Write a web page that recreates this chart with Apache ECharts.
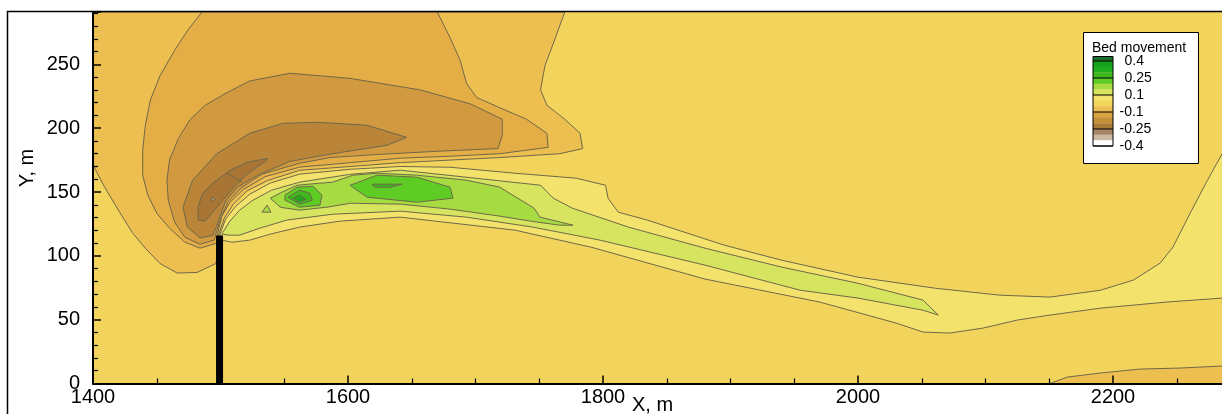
<!DOCTYPE html>
<html>
<head>
<meta charset="utf-8">
<script src="https://cdn.jsdelivr.net/npm/echarts@6/dist/echarts.min.js"></script>
<style>
  html, body { margin: 0; padding: 0; background: #ffffff; overflow: hidden; }
  #chart { width: 1222px; height: 414px; }
</style>
</head>
<body>
<div id="chart"></div>
<script>
// ---- Axis extents (metres) ----
const xRange = [1400, 2300];
const yRange = [0, 291];
const xTickStep = 200;
const yTickStep = 50;

// ---- Groyne ----
const pierX = [1496.5, 1502];
const pierTop = 116;

// ---- Bed movement contour regions, closed polygons of [X, Y] in metres ----
// erosion (negative) levels
const regionN1a = [[1400,291],[1770,291],[1762,269],[1754.5,249],[1751,230],[1756,218],[1770,207],[1782,196],[1784,184],
  [1766,180],[1719,177],[1680,175],[1641,173],[1602,170],[1562,167],[1537,159],[1521,151],[1510,140.5],
  [1503,129.5],[1499,118],[1498,108],[1496.5,94],[1481.6,87],[1466,86.5],[1452.5,94],[1441,106],[1431,118],
  [1421,134],[1409,154],[1400,171]];
const regionN1b = [[2150.6,0],[2164,5],[2190,8.2],[2221,11.3],[2252.6,12.1],[2285.6,13.7],[2300,14.5],[2300,0]];
const regionN2 = [[1485.5,291],[1670,291],[1680,271],[1688,253],[1693,235],[1701,224],[1719,216],[1740,207],[1756,196],[1757,185],
  [1719,180],[1680,178],[1641,176.5],[1602,173],[1562,169.5],[1535,162],[1518,152],[1507.5,142],[1501,131],[1498,118.5],
  [1497,110],[1484,106],[1472,110.7],[1460,121.7],[1450,133.4],[1443,147.5],[1439,163],[1439,183],[1441,202],
  [1445,222],[1452.5,241],[1464,261],[1474.5,277]];
const regionN3 = [[1554.5,243],[1601.6,239],[1656.5,230],[1696,219],[1721,207],[1721,194.4],[1717.6,184],
  [1672,182],[1625,179.5],[1586,177],[1562,172.5],[1532.5,164],[1516,153],[1506,142.5],[1501,131.5],[1497,119.3],
  [1495,112.3],[1484,109],[1472,114.6],[1464,126.4],[1459,143.6],[1458,159],[1460,175],[1467,192],[1476,206.6],
  [1488,218],[1503.5,227],[1523,237]];
const regionN4 = [[1646,192.8],[1615,202.3],[1576,204.6],[1549,203.8],[1523,196],[1497,180],[1478,159],[1470.6,138],[1474,122.5],
  [1484,114],[1494,116],[1497,123],[1500,132],[1504,143],[1513,153.5],[1529,163],[1554.5,174],[1588,180],[1630.6,186.6]];
const regionN5 = [[1537,176.4],[1521,173.3],[1507.5,167],[1494,157],[1486,149],[1482.4,138],[1482.4,128],[1488,127.2],
  [1493.3,133.4],[1501.2,142.8],[1509,152.2],[1519,162.4],[1529.4,170.2],[1535,174]];
const lineN5 = [[1505,164.7],[1517,157.7]];
const regionN6 = [[1492.5,144.4],[1494,146],[1495.5,144.4],[1494,142.8]];

// deposition (positive) levels
const regionP1 = [[1499.6,117],[1504,128.7],[1512,138.9],[1523,148.3],[1539,157],[1562,164],[1602,167.8],[1641,170],[1680,169.4],
  [1731,164.7],[1779,160.8],[1802,155.3],[1804,145],[1812,134.2],[1835,127.9],[1895,108.4],[1940,96.6],[2000,83.3],
  [2060,74.7],[2111,69.2],[2150.6,67.7],[2190,73],[2216,81],[2237,94.3],[2247,106.8],[2260.5,133.4],[2274,159],
  [2285.6,180],[2300,207.8],
  [2300,67.7],[2285.6,66.9],[2242,63.8],[2190,59],[2150.6,53.6],[2125,49.7],[2098,43.4],[2072,39.5],[2051,40.3],
  [2030,47.3],[1970,63.8],[1880,81.8],[1790.6,106.8],[1731,120.1],[1641,130.3],[1594,127.2],[1562,122.5],[1539,117],
  [1523,112.3],[1509,110.7],[1501,112.3]];
const regionP2 = [[1501,117],[1507.4,127.2],[1515,135.8],[1525.5,143.6],[1540,151.4],[1562,157.7],[1602,163.9],[1641,167.1],[1700,160.8],
  [1751,155.3],[1761,145.2],[1776,137.3],[1820,122.5],[1880,106],[1940,91.2],[2000,78.5],[2051,65.3],[2063,53.6],
  [2051,57.4],[2000,66.9],[1954.5,73.1],[1880,92.7],[1797.6,112.3],[1745,122.5],[1693,130.3],[1641,135],[1588,132.6],
  [1552,128],[1531,121.7],[1515,116.2],[1506,116.2]];
const regionP3 = [[1539,145.2],[1548,149.8],[1560,155.3],[1578,156.9],[1588,157.7],[1604,163.2],[1623,164.7],[1654,163.2],[1693,159.2],
  [1719,153.8],[1746,137.3],[1750.6,130.3],[1776.5,124],
  [1766,124],[1743,127.2],[1719,131.1],[1680,136.6],[1641,140.5],[1602,141.2],[1583.5,138.1],[1562,135.8],[1547,138]];
const regionP3b = [[1532.5,134.2],[1536.5,139.7],[1539.6,134.2]];
const regionP4a = [[1550.6,147.5],[1560,153.8],[1572.5,154.5],[1579.6,147.5],[1578,139.7],[1562,138.1],[1550.6,143.6]];
const regionP4b = [[1601.6,155.3],[1622.7,163.2],[1654,161.6],[1680,153.8],[1682.4,145.2],[1654,142],[1615,145.9]];
const regionP5a = [[1553,145.9],[1562,151.4],[1570,149.1],[1572,143.6],[1562,140.5]];
const regionP5b = [[1619,156.1],[1642.4,156.1],[1633,153.8],[1621,153.8]];
const regionP6 = [[1557,145.2],[1562,147.5],[1567,144.4],[1561.6,142]];

// ---- Colour legend ----
const legendTitle = 'Bed movement';
const legendLabels = ['0.4', '0.25', '0.1', '-0.1', '-0.25', '-0.4'];
const legendColors = ['#1d6f2d', '#13a11c', '#1dad1f', '#3db91e', '#5fcb25', '#a6db42', '#d7e460', '#f3e26c',
  '#f2d45c', '#ecbd4f', '#d9a243', '#c48e3b', '#a97a36', '#a58767', '#cdbba3', '#ffffff'];

// ---- Styling ----
const baseColor = '#f2d45c';
const bandColors = {
  n1: '#edbe50', n2: '#e5ad45', n3: '#d19a40', n4: '#ba8439', n5: '#a87534', n6: '#a89070',
  p1: '#f3e26c', p2: '#d7e460', p3: '#a6db42', p4: '#5fcb25', p5: '#3db91e', p6: '#22a81c'
};
const lineColor = '#6f684a';
const fontFamily = 'Liberation Sans, Arial, Helvetica, sans-serif';

const regions = [
  { band: 'base', pts: [[xRange[0], yRange[0]], [xRange[1], yRange[0]], [xRange[1], yRange[1]], [xRange[0], yRange[1]]] },
  { band: 'n1', pts: regionN1a }, { band: 'n1', pts: regionN1b },
  { band: 'n2', pts: regionN2 }, { band: 'n3', pts: regionN3 }, { band: 'n4', pts: regionN4 },
  { band: 'n5', pts: regionN5 }, { band: 'line', pts: lineN5 }, { band: 'n6', pts: regionN6 },
  { band: 'p1', pts: regionP1 }, { band: 'p2', pts: regionP2 }, { band: 'p3', pts: regionP3 }, { band: 'p3', pts: regionP3b },
  { band: 'p4', pts: regionP4a }, { band: 'p4', pts: regionP4b },
  { band: 'p5', pts: regionP5a }, { band: 'p5', pts: regionP5b }, { band: 'p6', pts: regionP6 }
];

function renderRegion(params, api) {
  const r = regions[api.value(2)];
  const pts = r.pts.map(p => api.coord(p));
  if (r.band === 'line') {
    return { type: 'polyline', shape: { points: pts }, style: { stroke: lineColor, lineWidth: 1, fill: null } };
  }
  if (r.band === 'base') {
    return { type: 'polygon', shape: { points: pts }, style: { fill: baseColor, stroke: null } };
  }
  return { type: 'polygon', shape: { points: pts }, style: { fill: bandColors[r.band], stroke: lineColor, lineWidth: 1 } };
}

function renderPier(params, api) {
  const a = api.coord([pierX[0], pierTop]);
  const b = api.coord([pierX[1], 0]);
  return { type: 'rect', shape: { x: a[0], y: a[1], width: b[0] - a[0], height: b[1] - a[1] }, style: { fill: '#000000' } };
}

// ---- Legend graphics ----
const legend = [];
const box = { x: 1083.5, y: 32.5, w: 115, h: 131 };
legend.push({ type: 'rect', shape: { x: box.x, y: box.y, width: box.w, height: box.h },
  style: { fill: '#ffffff', stroke: '#000000', lineWidth: 1 }, z: 100 });
legend.push({ type: 'text', x: 1092, y: 48, z: 101,
  style: { text: legendTitle, fontSize: 14, fontFamily: fontFamily, fill: '#000', align: 'left', verticalAlign: 'middle' } });
const barX = 1093, barW = 20, lvlTop = 61, segH = 17;
const bandH = segH / 3;
// band above the highest level
legend.push({ type: 'rect', shape: { x: barX, y: 56.5, width: barW, height: lvlTop - 56.5 }, style: { fill: legendColors[0] }, z: 101 });
for (let i = 1; i < legendColors.length; i++) {
  legend.push({ type: 'rect', shape: { x: barX, y: lvlTop + (i - 1) * bandH, width: barW, height: bandH + 0.3 },
    style: { fill: legendColors[i] }, z: 101 });
}
legend.push({ type: 'rect', shape: { x: barX, y: 56.5, width: barW, height: lvlTop + 5 * segH - 56.5 },
  style: { fill: null, stroke: '#000', lineWidth: 1 }, z: 102 });
legendLabels.forEach((lab, k) => {
  const y = lvlTop + k * segH;
  legend.push({ type: 'line', shape: { x1: barX, y1: y, x2: barX + barW, y2: y }, style: { stroke: '#000', lineWidth: 1 }, z: 102 });
  legend.push({ type: 'text', x: lab.charAt(0) === '-' ? 1119.5 : 1124.5, y: y + 0.5, z: 102,
    style: { text: lab, fontSize: 14, fontFamily: fontFamily, fill: '#000', align: 'left', verticalAlign: 'middle' } });
});

const chart = echarts.init(document.getElementById('chart'), null, { renderer: 'canvas' });

const axisLabelStyle = { fontSize: 20, color: '#000', fontFamily: fontFamily, formatter: v => String(v) };

chart.setOption({
  animation: false,
  backgroundColor: '#ffffff',
  grid: { left: 93, top: 12, width: 1147.5, height: 371.5, containLabel: false, outerBoundsMode: 'none' },
  xAxis: {
    type: 'value', min: xRange[0], max: xRange[1], interval: xTickStep, z: 10,
    axisLine: { show: true, onZero: false, lineStyle: { color: '#000', width: 2 } },
    axisTick: { show: true, inside: true, length: 8, lineStyle: { color: '#000', width: 1.5 } },
    minorTick: { show: true, splitNumber: 4, length: 5, lineStyle: { color: '#000', width: 1.2 } },
    splitLine: { show: false }, minorSplitLine: { show: false },
    axisLabel: Object.assign({ margin: 4, showMaxLabel: false, hideOverlap: false }, axisLabelStyle)
  },
  yAxis: {
    type: 'value', min: yRange[0], max: yRange[1], interval: yTickStep, z: 10,
    axisLine: { show: true, onZero: false, lineStyle: { color: '#000', width: 2 } },
    axisTick: { show: true, inside: true, length: 8, lineStyle: { color: '#000', width: 1.5 } },
    minorTick: { show: true, splitNumber: 5, length: 5, lineStyle: { color: '#000', width: 1.2 } },
    splitLine: { show: false }, minorSplitLine: { show: false },
    axisLabel: Object.assign({ margin: 13, showMaxLabel: false, hideOverlap: false }, axisLabelStyle)
  },
  series: [
    {
      type: 'custom', name: 'Bed movement', clip: true, z: 2,
      encode: { x: 0, y: 1 },
      data: regions.map((r, i) => [xRange[0], yRange[0], i]),
      renderItem: renderRegion, silent: true
    },
    {
      type: 'custom', name: 'Groyne', clip: true, z: 3,
      encode: { x: 0, y: 1 },
      data: [[pierX[0], 0]],
      renderItem: renderPier, silent: true
    }
  ],
  graphic: [
    { type: 'rect', shape: { x: 7.5, y: 11.5, width: 1300, height: 500 }, style: { fill: null, stroke: '#000', lineWidth: 1.5 }, z: 50, silent: true },
    { type: 'text', x: 27, y: 168, rotation: Math.PI / 2, z: 50,
      style: { text: 'Y, m', fontSize: 20, fontFamily: fontFamily, fill: '#000', align: 'center', verticalAlign: 'middle' } },
    { type: 'text', x: 632, y: 405, z: 50,
      style: { text: 'X, m', fontSize: 20, fontFamily: fontFamily, fill: '#000', align: 'left', verticalAlign: 'middle' } }
  ].concat(legend)
});
</script>
</body>
</html>
